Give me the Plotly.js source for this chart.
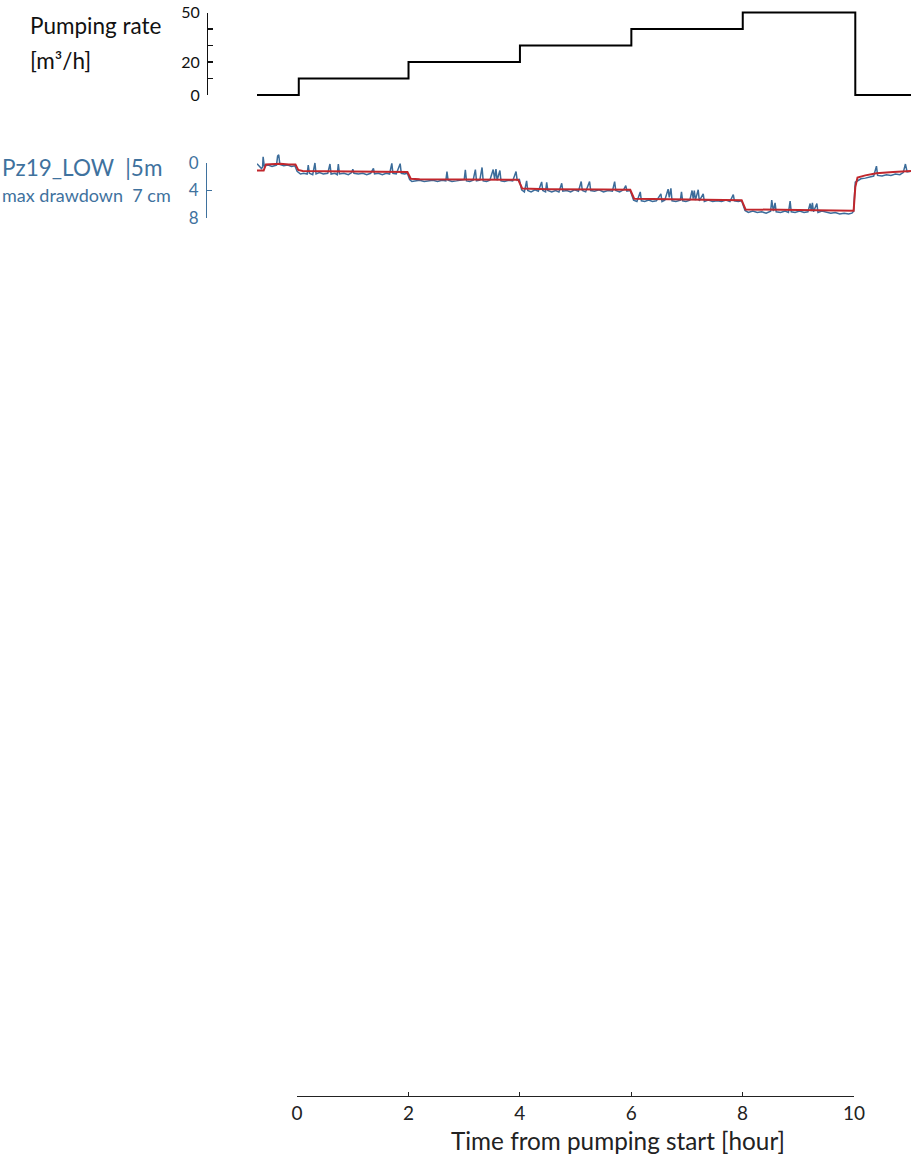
<!DOCTYPE html>
<html>
<head>
<meta charset="utf-8">
<script src="https://cdn.plot.ly/plotly-3.0.1.min.js"></script>
<style>html,body{margin:0;padding:0;background:#fff;}</style>
</head>
<body>
<div id="chart" style="width:911px;height:1155px;"></div>
<script>
// ---- Pumping rate (m3/h), step series ----
const pumpHours = [-0.72, 0.03, 2.0, 4.0, 6.0, 8.0, 10.02, 11.02];
const pumpRate  = [0, 10, 20, 30, 40, 50, 0, 0];

// ---- Pz19_LOW drawdown (cm), measured (blue) ----
const blueHours = [
 -0.72,-0.68,-0.64,-0.62,-0.61,-0.59,-0.52,-0.45,-0.37,-0.35,-0.33,-0.31,-0.24,-0.17,-0.1,-0.04,
 0.0,0.06,0.12,0.18,0.2,0.22,0.28,0.32,0.34,0.4,0.47,0.55,0.59,0.61,0.68,0.72,0.74,0.76,0.84,0.92,0.98,
 1.0,1.02,1.1,1.18,1.25,1.32,1.37,1.39,1.46,1.53,1.6,1.66,1.7,1.72,1.78,1.85,1.87,1.93,1.98,
 2.02,2.06,2.12,2.2,2.28,2.36,2.44,2.52,2.6,2.67,2.69,2.71,2.78,2.86,2.94,3.0,3.02,3.04,3.1,3.16,3.2,3.22,
 3.28,3.32,3.34,3.4,3.46,3.52,3.545,3.57,3.59,3.64,3.66,3.72,3.8,3.87,3.93,3.95,3.99,
 4.03,4.08,4.12,4.14,4.2,4.27,4.33,4.39,4.41,4.46,4.48,4.5,4.57,4.64,4.7,4.75,4.77,4.84,4.91,4.98,
 5.05,5.1,5.12,5.18,5.25,5.27,5.34,5.42,5.5,5.58,5.66,5.7,5.72,5.79,5.86,5.9,5.92,5.98,
 6.04,6.1,6.16,6.18,6.24,6.31,6.38,6.45,6.53,6.55,6.6,6.66,6.68,6.71,6.73,6.8,6.88,6.9,6.92,6.98,
 7.05,7.09,7.11,7.13,7.15,7.2,7.22,7.29,7.31,7.38,7.46,7.54,7.62,7.7,7.77,7.83,7.85,7.92,7.98,
 8.04,8.1,8.18,8.26,8.34,8.42,8.5,8.52,8.55,8.58,8.6,8.68,8.76,8.82,8.85,8.87,8.94,
 9.02,9.1,9.17,9.21,9.23,9.25,9.27,9.33,9.35,9.42,9.5,9.58,9.66,9.74,9.82,9.9,9.96,9.99,
 10.02,10.06,10.12,10.2,10.28,10.35,10.4,10.42,10.5,10.58,10.66,10.74,10.82,10.88,10.92,10.95,11.02
];
const blueDrawdown = [
 0.1,0.5,0.8,0.6,-0.9,0.4,0.3,0.5,0.3,-1.0,-1.2,0.2,0.4,0.3,0.5,0.4,
 1.2,1.6,1.5,1.6,0.3,1.5,1.7,0.0,1.6,1.4,1.6,1.5,0.15,1.6,1.5,1.7,0.15,1.6,1.5,1.7,1.4,
 0.9,1.5,1.6,1.5,1.7,1.5,0.8,1.6,1.5,1.7,1.5,1.6,0.05,1.5,1.6,0.1,1.5,1.6,1.5,
 2.4,2.7,2.6,2.5,2.7,2.6,2.5,2.7,2.5,2.6,1.25,2.5,2.7,2.6,2.5,2.4,1.0,2.6,2.7,2.5,0.95,2.6,
 2.5,0.65,2.6,2.7,2.5,0.95,2.3,0.9,2.5,1.1,2.6,2.7,2.5,2.6,1.25,2.5,2.4,
 3.9,4.2,2.6,4.0,4.2,3.9,4.1,2.75,4.0,4.2,2.8,4.0,4.2,4.0,4.2,2.95,4.1,4.0,4.2,3.9,
 4.1,2.7,4.0,4.2,2.7,4.0,4.1,3.9,4.2,4.0,4.1,2.7,4.0,4.2,3.9,3.3,4.1,4.0,
 5.4,5.6,4.2,5.5,5.6,5.4,5.6,5.5,4.5,5.6,5.4,3.8,5.0,3.7,5.5,5.6,5.4,4.2,5.5,5.6,
 5.4,4.0,5.2,4.0,5.4,3.9,5.5,4.5,5.6,5.4,5.6,5.5,5.6,5.4,5.6,4.6,5.5,5.6,5.5,
 6.9,7.2,7.0,7.2,7.1,7.3,7.0,5.4,7.0,5.8,7.1,7.2,7.0,7.2,5.55,7.1,7.2,
 7.0,7.2,7.1,5.9,7.0,5.8,7.1,5.9,7.2,7.0,7.2,7.3,7.2,7.4,7.3,7.4,7.3,7.0,
 2.8,2.6,2.3,2.2,2.0,1.9,0.45,1.8,1.9,1.7,1.8,1.6,1.7,1.4,0.15,1.3,1.2
];

// ---- Pz19_LOW drawdown (cm), smoothed (red) ----
const redHours = [-0.72,-0.6,-0.56,-0.45,-0.3,-0.15,-0.03,0.02,0.1,0.5,1.0,1.5,1.98,2.04,2.2,3.0,3.97,
 4.04,4.5,5.5,5.98,6.05,6.5,7.5,7.98,8.05,8.5,9.5,9.99,10.02,10.06,10.2,10.4,10.7,11.02];
const redDrawdown = [1.1,1.1,0.2,0.15,0.1,0.2,0.2,1.0,1.15,1.2,1.2,1.25,1.3,2.3,2.35,2.4,2.45,
 3.7,3.8,3.85,3.9,5.2,5.25,5.35,5.4,6.75,6.8,6.9,6.95,3.5,2.1,1.8,1.5,1.3,1.15];

// ---- Axis ticks / labels ----
const pumpTicks = [0, 10, 20, 30, 40, 50];
const pumpTickText = ['0', '', '20', '', '', '50'];
const ddTicks = [0, 4, 8];
const hourTicks = [0, 2, 4, 6, 8, 10];

const W = 911, H = 1155;
const px = v => v / W;
const py = v => 1 - v / H;
const FONT = 'Lato, "Open Sans", sans-serif';
const STEEL = '#3f729e';

const traces = [
  {x: pumpHours, y: pumpRate, xaxis: 'x', yaxis: 'y', mode: 'lines',
   line: {shape: 'hv', color: '#000', width: 2}, hoverinfo: 'skip', showlegend: false},
  {x: blueHours, y: blueDrawdown, xaxis: 'x', yaxis: 'y3', mode: 'lines',
   line: {color: '#3b6c9a', width: 1.5}, hoverinfo: 'skip', showlegend: false},
  {x: redHours, y: redDrawdown, xaxis: 'x', yaxis: 'y3', mode: 'lines',
   line: {color: '#c1272d', width: 2}, hoverinfo: 'skip', showlegend: false},
  // carriers for the bracket axes
  {x: [], y: [], xaxis: 'x', yaxis: 'y2', mode: 'lines', hoverinfo: 'skip', showlegend: false},
  {x: [], y: [], xaxis: 'x', yaxis: 'y4', mode: 'lines', hoverinfo: 'skip', showlegend: false},
  {x: [], y: [], xaxis: 'x3', yaxis: 'y', mode: 'lines', hoverinfo: 'skip', showlegend: false}
];

// pixel geometry
const pumpZeroPx = 95, pumpFiftyPx = 12.5;
const pumpScale = (pumpZeroPx - pumpFiftyPx) / 50;
const ddZeroPx = 163, ddEightPx = 218;
const ddScale = (ddEightPx - ddZeroPx) / 8;

const layout = {
  width: W, height: H,
  margin: {l: 0, r: 0, t: 0, b: 0, pad: 0},
  paper_bgcolor: '#fff', plot_bgcolor: 'rgba(0,0,0,0)',
  font: {family: FONT, color: '#111'},
  showlegend: false,
  xaxis: {domain: [px(257), px(911)], range: [-0.72, 11.02], visible: false, anchor: 'y', fixedrange: true},
  xaxis3: {
    domain: [px(297), px(854)], range: [0, 10], anchor: 'free', position: py(1096),
    showline: true, linecolor: '#222', linewidth: 1.2,
    ticks: 'inside', ticklen: 4, tickwidth: 1.2, tickcolor: '#222',
    tickvals: hourTicks, ticktext: hourTicks.map(String), tickfont: {size: 19, color: '#222'},
    ticklabelstandoff: 0, showgrid: false, zeroline: false, fixedrange: true
  },
  yaxis: {domain: [py(100), py(5)], range: [-(100 - pumpZeroPx) / pumpScale, 50 + (pumpFiftyPx - 5) / pumpScale],
          visible: false, anchor: 'x', fixedrange: true},
  yaxis2: {
    domain: [py(pumpZeroPx), py(pumpFiftyPx)], range: [0, 50], anchor: 'free', position: px(207),
    showline: true, linecolor: '#111', linewidth: 1.3,
    ticks: 'inside', ticklen: 5, tickwidth: 1.3, tickcolor: '#111',
    tickvals: pumpTicks, ticktext: pumpTickText, tickfont: {size: 16, color: '#111'},
    ticklabelstandoff: 4, showgrid: false, zeroline: false, fixedrange: true
  },
  yaxis3: {domain: [py(226), py(148)], range: [(226 - ddZeroPx) / ddScale, -(ddZeroPx - 148) / ddScale],
           visible: false, anchor: 'x', fixedrange: true},
  yaxis4: {
    domain: [py(ddEightPx), py(ddZeroPx)], range: [8, 0], anchor: 'free', position: px(206),
    showline: true, linecolor: STEEL, linewidth: 1.3,
    ticks: 'inside', ticklen: 5, tickwidth: 1.3, tickcolor: STEEL,
    tickvals: ddTicks, ticktext: ddTicks.map(String), tickfont: {size: 17, color: STEEL},
    ticklabelstandoff: 4, showgrid: false, zeroline: false, fixedrange: true
  },
  annotations: [
    {text: 'Pumping rate', xref: 'paper', yref: 'paper', x: px(28), y: py(25), xanchor: 'left', yanchor: 'middle',
     showarrow: false, font: {size: 22.5, color: '#111'}},
    {text: '[m³/h]', xref: 'paper', yref: 'paper', x: px(28), y: py(60), xanchor: 'left', yanchor: 'middle',
     showarrow: false, font: {size: 22.5, color: '#111'}},
    {text: 'Pz19_LOW\u00a0\u00a0|5m', xref: 'paper', yref: 'paper', x: px(0), y: py(167), xanchor: 'left', yanchor: 'middle',
     showarrow: false, font: {size: 22.5, color: STEEL}},
    {text: 'max drawdown\u00a0\u00a07 cm', xref: 'paper', yref: 'paper', x: px(0), y: py(195), xanchor: 'left', yanchor: 'middle',
     showarrow: false, font: {size: 18, color: STEEL}},
    {text: 'Time from pumping start [hour]', xref: 'paper', yref: 'paper', x: px(618), y: py(1140), xanchor: 'center', yanchor: 'middle',
     showarrow: false, font: {size: 24.3, color: '#222'}}
  ]
};

Plotly.newPlot('chart', traces, layout, {staticPlot: true, displayModeBar: false});
</script>
</body>
</html>
